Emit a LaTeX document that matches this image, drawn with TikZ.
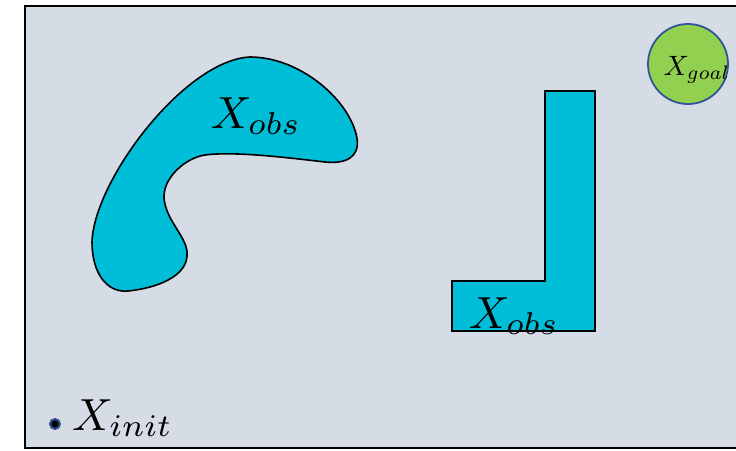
\documentclass[tikz,border=0pt]{standalone}
\usepackage{graphicx}
\definecolor{bgfill}{HTML}{D6DCE5}
\definecolor{obscyan}{HTML}{00BED8}
\definecolor{goalgreen}{HTML}{92D050}
\definecolor{goalblue}{HTML}{2F5597}
\newcommand{\biglab}[1]{\scalebox{4.5}{$#1$}}
\newcommand{\smalllab}[1]{\scalebox{2.8}{$#1$}}
\begin{document}
\begin{tikzpicture}[x=1pt,y=-1pt,
  obstacle/.style={fill=obscyan,draw=black,line width=1.6pt},
  labelnode/.style={inner sep=0pt}]
\useasboundingbox (0,0) rectangle (736,450);
\clip (0,0) rectangle (736,450);
% workspace frame
\draw[fill=bgfill,line width=2pt] (25,6) rectangle (760,448);
% curved obstacle
\path[obstacle] (250,57) .. controls (300,57) and (350,100) .. (357,138)
  .. controls (360,158) and (345,164) .. (325,162)
  .. controls (290,158) and (235,151) .. (205,155)
  .. controls (185,158) and (163,178) .. (164,198)
  .. controls (166,222) and (189,238) .. (187,256)
  .. controls (186,276) and (158,288) .. (128,291)
  .. controls (106,293) and (92,272) .. (92,242)
  .. controls (94,180) and (185,60) .. cycle;
\node[labelnode] (obs1) at (256,116) {\biglab{X_{obs}}};
% L-shaped obstacle
\path[obstacle] (545,91) -- (595,91) -- (595,331) -- (452,331) -- (452,281) -- (545,281) -- cycle;
\node[labelnode] (obs2) at (514,316) {\biglab{X_{obs}}};
% goal region
\node[circle,minimum size=80pt,inner sep=0pt,fill=goalgreen,draw=goalblue,line width=1.8pt] (goal) at (688,64) {};
\node[labelnode] (goallabel) at (697,70) {\smalllab{X_{goal}}};
% initial state
\node[circle,minimum size=10pt,inner sep=0pt,fill=black,draw=goalblue,line width=2pt] (init) at (55,424) {};
\node[labelnode,anchor=west] (initlabel) at (72,418) {\biglab{X_{init}}};
\end{tikzpicture}
\end{document}
